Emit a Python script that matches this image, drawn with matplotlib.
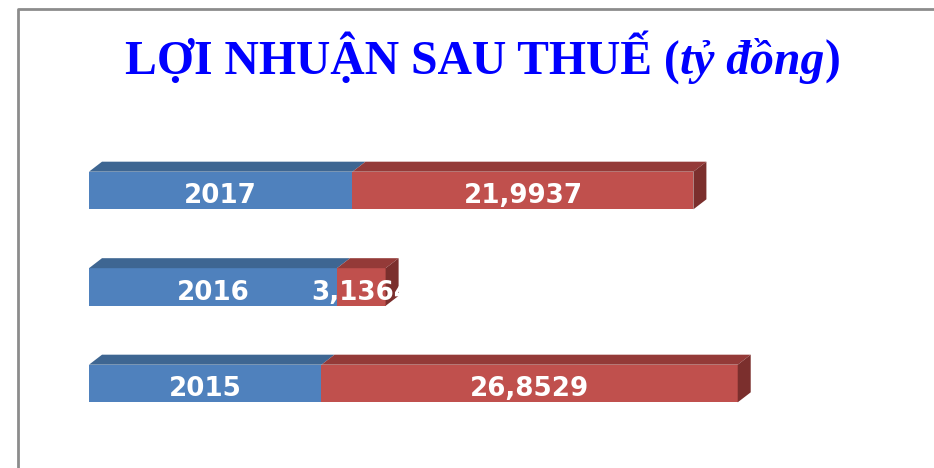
import matplotlib
matplotlib.use('Agg')
import matplotlib.pyplot as plt
from matplotlib.patches import Polygon
from matplotlib.lines import Line2D

# data
years = [2015, 2016, 2017]
year_labels = ['2015', '2016', '2017']
profits = [26.8529, 3.1364, 21.9937]
profit_labels = ['26,8529', '3,1364', '21,9937']

title_main = 'LỢI NHUẬN SAU THUẾ ('
title_unit = 'tỷ đồng'
title_end = ')'

blue = '#4F81BD'
blue_top = '#3E6692'
red = '#C0504D'
red_top = '#943A38'
red_side = '#7B2F2D'

W, H = 934, 468
fig = plt.figure(figsize=(W / 100, H / 100), dpi=100)
fig.patch.set_facecolor('white')

# slide frame
fig.add_artist(Line2D([18 / W, 18 / W, 1], [0, 1 - 9 / H, 1 - 9 / H],
                      transform=fig.transFigure, color='#8C8C8C', lw=2))

ax = fig.add_axes([89 / W, 36.25 / H, 837 / W, 289.5 / H])
ax.set_xlim(2000, 2054)
ax.set_ylim(-0.5, 2.5)
ax.axis('off')

bh = 0.39
dx = 13 / 15.5   # depth in data units (x)
dy = 10 / 96.5   # depth in data units (y)
base_off = 0.133  # label baseline below bar centre

ypos = range(len(years))
ax.barh(ypos, [y - 2000 for y in years], left=2000, height=bh, color=blue, zorder=2)
ax.barh(ypos, profits, left=years, height=bh, color=red, zorder=2)


def top_face(x0, x1, yt, c, z):
    ax.add_patch(Polygon([(x0, yt), (x1, yt), (x1 + dx, yt + dy), (x0 + dx, yt + dy)],
                         closed=True, facecolor=c, edgecolor='none', zorder=z))


lbl = dict(color='white', fontsize=18.8, fontweight='bold', family='DejaVu Sans',
           ha='center', va='baseline', zorder=7)

for i, (yr, p) in enumerate(zip(years, profits)):
    yt = i + bh / 2
    yb = i - bh / 2
    top_face(2000, yr, yt, blue_top, 3)
    top_face(yr, yr + p, yt, red_top, 4)
    xe = yr + p
    ax.add_patch(Polygon([(xe, yb), (xe, yt), (xe + dx, yt + dy), (xe + dx, yb + dy)],
                         closed=True, facecolor=red_side, edgecolor='none', zorder=5))
    ax.text((2000 + yr) / 2, i - base_off, year_labels[i], **lbl)
    ax.text(yr + p / 2, i - base_off, profit_labels[i], **lbl)

# title in three pieces (upright / italic / upright)
t1 = fig.text(125 / W, 1 - 74 / H, title_main, color='#0000FF', fontsize=34.3,
              fontweight='bold', family='Liberation Serif', va='baseline', ha='left')
t2 = ax.annotate(title_unit, xy=(1, 0), xycoords=t1, va='bottom', ha='left',
                 color='#0000FF', fontsize=34.3, fontweight='bold', fontstyle='italic',
                 family='Liberation Serif', annotation_clip=False)
t3 = ax.annotate(title_end, xy=(1, 0), xycoords=t2, va='bottom', ha='left',
                 color='#0000FF', fontsize=34.3, fontweight='bold',
                 family='Liberation Serif', annotation_clip=False)

fig.savefig('out.png', dpi=100)
